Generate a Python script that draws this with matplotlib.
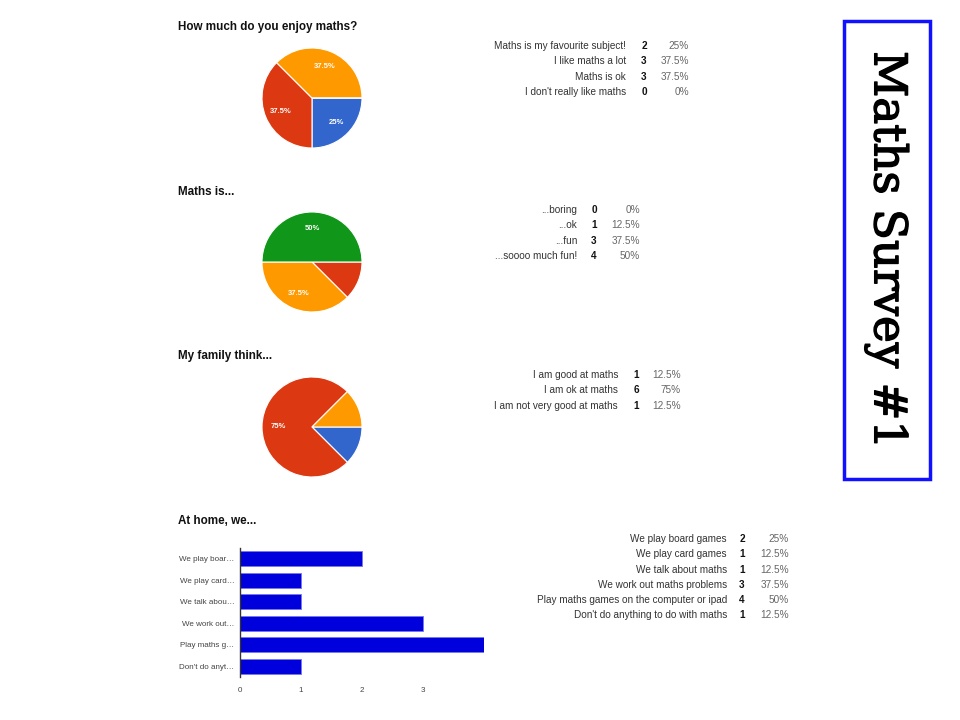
import matplotlib.pyplot as plt
import matplotlib.patheffects as pe
from matplotlib.patches import Rectangle

# Google-forms style colours
g_blue = '#3366cc'
g_red = '#dc3912'
g_orange = '#ff9900'
g_green = '#109618'
pie_colors = [g_blue, g_red, g_orange, g_green]

# number of people who answered the survey (percentages are out of this)
n_respondents = 8

# Q1
q1_title = 'How much do you enjoy maths?'
q1_labels = ['Maths is my favourite subject!', 'I like maths a lot', 'Maths is ok',
             "I don't really like maths"]
q1_counts = [2, 3, 3, 0]

# Q2
q2_title = 'Maths is...'
q2_labels = ['...boring', '...ok', '...fun', '...soooo much fun!']
q2_counts = [0, 1, 3, 4]

# Q3
q3_title = 'My family think...'
q3_labels = ['I am good at maths', 'I am ok at maths', 'I am not very good at maths']
q3_counts = [1, 6, 1]

# Q4
q4_title = 'At home, we...'
q4_labels = ['We play board games', 'We play card games', 'We talk about maths',
             'We work out maths problems', 'Play maths games on the computer or ipad',
             "Don't do anything to do with maths"]
q4_short = ['We play boar\u2026', 'We play card\u2026', 'We talk abou\u2026',
            'We work out\u2026', 'Play maths g\u2026', "Don't do anyt\u2026"]
q4_counts = [2, 1, 1, 3, 4, 1]
q4_ticks = [0, 1, 2, 3]

W, H = 960, 720
FONT = 'Liberation Sans'

fig = plt.figure(figsize=(9.6, 7.2), dpi=100)
bg = fig.add_axes([0, 0, 1, 1])
bg.set_xlim(0, W)
bg.set_ylim(H, 0)
bg.axis('off')


def fmt_pct(p):
    s = f"{p:.1f}"
    if s.endswith('.0'):
        s = s[:-2]
    return s + '%'


def draw_table(labels, counts, x_lab, x_cnt, x_pct, y0, dy=15.3):
    for i, (lab, c) in enumerate(zip(labels, counts)):
        y = y0 + i * dy
        bg.text(x_lab, y, lab, ha='right', va='center', fontsize=7.2,
                family=FONT, color='#333333')
        bg.text(x_cnt, y, str(c), ha='center', va='center', fontsize=7.2,
                family=FONT, fontweight='bold', color='#111111')
        bg.text(x_pct, y, fmt_pct(100 * c / n_respondents), ha='right',
                va='center', fontsize=7.2, family=FONT, color='#666666')


def draw_pie(counts, cx, cy, r=51):
    ax = fig.add_axes([(cx - r) / W, 1 - (cy + r) / H, 2 * r / W, 2 * r / H])

    def auto(p):
        return fmt_pct(p) if p >= 20 else ''

    ax.pie(counts, colors=pie_colors[:len(counts)], startangle=0,
           counterclock=False, autopct=auto, pctdistance=0.68,
           wedgeprops={'edgecolor': 'white', 'linewidth': 0.8},
           textprops={'fontsize': 5.5, 'color': 'white', 'fontweight': 'bold',
                      'family': FONT})
    ax.set_xlim(-1.02, 1.02)
    ax.set_ylim(-1.02, 1.02)
    ax.set_aspect('equal')
    return ax


def title(txt, y):
    bg.text(178, y, txt, ha='left', va='center', fontsize=8.4,
            fontweight='bold', family=FONT, color='#111111')


# section 1
title(q1_title, 27)
draw_pie(q1_counts, 312, 98)
draw_table(q1_labels, q1_counts, 626, 644, 689, 46)

# section 2
title(q2_title, 192)
draw_pie(q2_counts, 312, 262)
draw_table(q2_labels, q2_counts, 577, 594, 640, 210)

# section 3
title(q3_title, 356)
draw_pie(q3_counts, 312, 427)
draw_table(q3_labels, q3_counts, 618, 636, 681, 375)

# section 4 - bar chart
title(q4_title, 521)
axb = fig.add_axes([240 / W, 1 - 677 / H, (484 - 240) / W, (677 - 548) / H])
ypos = list(range(len(q4_counts)))
axb.barh(ypos, q4_counts, height=0.7, color='#0000dd', edgecolor='#7777ee',
         linewidth=0.6)
axb.set_xlim(0, 4)
axb.set_ylim(len(q4_counts) - 0.5, -0.5)
axb.set_yticks(ypos)
axb.set_yticklabels(q4_short, fontsize=5.8, family=FONT, color='#444444')
axb.set_xticks(q4_ticks)
axb.set_xticklabels([str(t) for t in q4_ticks], fontsize=5.8, family=FONT,
                    color='#444444')
axb.tick_params(length=0, pad=4)
axb.tick_params(axis='x', pad=7)
for s in ['top', 'right', 'bottom']:
    axb.spines[s].set_visible(False)
axb.spines['left'].set_color('#333333')
axb.spines['left'].set_linewidth(1.0)
draw_table(q4_labels, q4_counts, 727, 742, 789, 539)

# title box on the right
bg.add_patch(Rectangle((844, 21), 86, 458, fill=False, edgecolor='#1111ff',
                       linewidth=2.5))
bg.text(887, 250, 'Maths Survey #1', rotation=-90, ha='center', va='center',
        fontsize=32.5, family='DejaVu Serif', color='black',
        path_effects=[pe.withStroke(linewidth=1.0, foreground='black')])

fig.savefig('out.png', dpi=100)
